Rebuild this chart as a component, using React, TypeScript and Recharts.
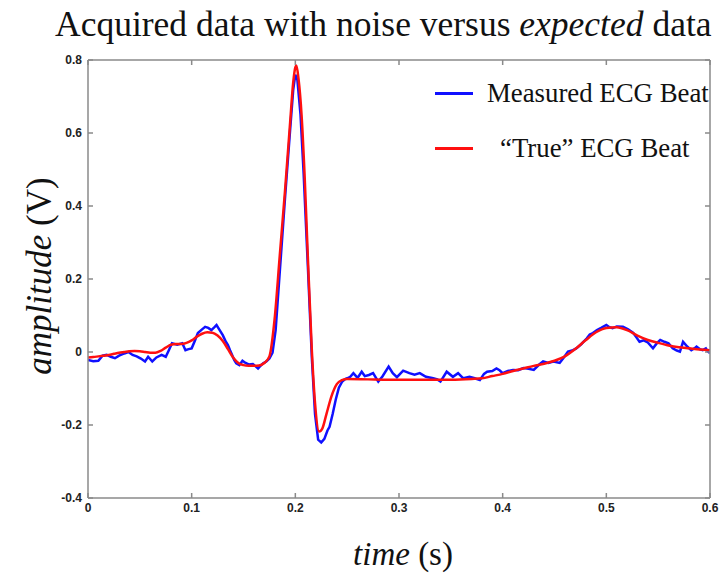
import React from 'react';
import { LineChart, Line, XAxis, YAxis, Label } from 'recharts';

// "True" ECG beat (red)
const trueTime = [
  0, 0.005, 0.01, 0.015, 0.02, 0.025, 0.03, 0.035, 0.04, 0.045, 0.05, 0.055, 0.06, 0.065, 0.07, 0.075,
  0.08, 0.085, 0.09, 0.095, 0.1, 0.105, 0.11, 0.115, 0.12, 0.125, 0.13, 0.135, 0.14, 0.145, 0.15, 0.155,
  0.16, 0.165, 0.17, 0.175, 0.18, 0.185, 0.19, 0.195, 0.198, 0.2, 0.201, 0.203, 0.206, 0.209, 0.212,
  0.216, 0.219, 0.223, 0.226, 0.23, 0.235, 0.24, 0.245, 0.25, 0.27, 0.29, 0.31, 0.33, 0.35, 0.37, 0.38,
  0.39, 0.4, 0.41, 0.42, 0.43, 0.44, 0.45, 0.46, 0.47, 0.48, 0.49, 0.5, 0.51, 0.52, 0.53, 0.54, 0.55,
  0.56, 0.57, 0.58, 0.59, 0.6,
];
const trueVolt = [
  -0.015, -0.014, -0.012, -0.01, -0.008, -0.005, -0.002, 0, 0.002, 0.003, 0.002, 0, -0.002, -0.002, 0.003, 0.012,
  0.02, 0.022, 0.022, 0.025, 0.032, 0.042, 0.05, 0.054, 0.053, 0.045, 0.03, 0.008, -0.015, -0.03, -0.036, -0.038,
  -0.038, -0.037, -0.03, -0.012, 0.09, 0.265, 0.44, 0.63, 0.74, 0.78, 0.785, 0.75, 0.65, 0.48, 0.265,
  0.0, -0.14, -0.218, -0.21, -0.17, -0.12, -0.088, -0.077, -0.074, -0.075, -0.076, -0.076, -0.076, -0.076, -0.074, -0.072,
  -0.066, -0.06, -0.052, -0.045, -0.038, -0.032, -0.024, -0.012, 0.008, 0.032, 0.054, 0.066, 0.068, 0.06, 0.045, 0.033, 0.025,
  0.018, 0.013, 0.01, 0.007, 0.005,
];

// Measured ECG beat (blue)
const measTime = [
  0, 0.005, 0.01, 0.014, 0.018, 0.022, 0.026, 0.03, 0.035, 0.039, 0.043, 0.047, 0.051, 0.055, 0.058, 0.062,
  0.066, 0.071, 0.075, 0.078, 0.081, 0.086, 0.091, 0.094, 0.097, 0.1, 0.103, 0.106, 0.11, 0.113, 0.116, 0.119,
  0.122, 0.124, 0.127, 0.13, 0.133, 0.135, 0.137, 0.139, 0.141, 0.143, 0.146, 0.149, 0.152, 0.155, 0.159, 0.162,
  0.164, 0.167, 0.169, 0.172, 0.175, 0.178, 0.181, 0.185, 0.19, 0.195, 0.198, 0.2, 0.202, 0.205, 0.208, 0.212,
  0.216, 0.219, 0.222, 0.225, 0.228, 0.231, 0.233, 0.236, 0.239, 0.242, 0.245, 0.248, 0.25, 0.253, 0.256, 0.26,
  0.264, 0.267, 0.271, 0.275, 0.28, 0.284, 0.29, 0.294, 0.298, 0.304, 0.31, 0.315, 0.32, 0.326, 0.333, 0.337,
  0.34, 0.346, 0.352, 0.357, 0.362, 0.368, 0.373, 0.378, 0.382, 0.385, 0.39, 0.394, 0.397, 0.4, 0.405, 0.41,
  0.415, 0.42, 0.425, 0.43, 0.435, 0.439, 0.444, 0.449, 0.455, 0.459, 0.463, 0.467, 0.471, 0.476, 0.481, 0.484,
  0.487, 0.491, 0.495, 0.5, 0.503, 0.506, 0.51, 0.516, 0.521, 0.526, 0.529, 0.532, 0.536, 0.54, 0.545, 0.549,
  0.552, 0.556, 0.56, 0.564, 0.568, 0.571, 0.574, 0.578, 0.582, 0.585, 0.587, 0.59, 0.593, 0.596, 0.598, 0.6,
];
const measVolt = [
  -0.022, -0.025, -0.024, -0.01, -0.008, -0.013, -0.017, -0.01, -0.004, 0, -0.008, -0.012, -0.018, -0.026, -0.013, -0.026,
  -0.015, -0.008, -0.013, 0.005, 0.024, 0.02, 0.024, 0.005, 0.008, 0.01, 0.03, 0.052, 0.062, 0.069, 0.066, 0.06,
  0.068, 0.074, 0.06, 0.046, 0.028, 0.019, 0.005, -0.008, -0.022, -0.031, -0.036, -0.024, -0.03, -0.034, -0.033, -0.04,
  -0.045, -0.036, -0.031, -0.026, -0.018, -0.002, 0.06, 0.22, 0.42, 0.61, 0.72, 0.76, 0.745, 0.65, 0.49, 0.24,
  -0.02, -0.17, -0.24, -0.248, -0.238, -0.215, -0.205, -0.17, -0.13, -0.098, -0.082, -0.074, -0.072, -0.068, -0.058, -0.071,
  -0.054, -0.066, -0.063, -0.058, -0.081, -0.067, -0.04, -0.058, -0.069, -0.051, -0.058, -0.062, -0.058, -0.068, -0.072, -0.075,
  -0.081, -0.054, -0.068, -0.058, -0.072, -0.068, -0.072, -0.077, -0.06, -0.054, -0.052, -0.045, -0.05, -0.058, -0.052, -0.049,
  -0.05, -0.044, -0.046, -0.049, -0.035, -0.026, -0.03, -0.026, -0.03, -0.015, 0.001, 0.004, 0.01, 0.022, 0.037, 0.048,
  0.052, 0.06, 0.066, 0.074, 0.068, 0.065, 0.07, 0.069, 0.062, 0.052, 0.04, 0.028, 0.032, 0.026, 0.01, 0.025,
  0.033, 0.028, 0.024, 0.01, 0.004, 0.001, 0.028, 0.015, 0.005, 0.01, 0.015, 0.008, 0.005, 0.01, 0.001, -0.003,
];

const xTicks = [0, 0.1, 0.2, 0.3, 0.4, 0.5, 0.6];
const yTicks = [-0.4, -0.2, 0, 0.2, 0.4, 0.6, 0.8];
const seriesNames = ['Measured ECG Beat', '\u201CTrue\u201D ECG Beat'];
const seriesColors = ['#1010ff', '#ff1010'];

const trueData = trueTime.map((t, i) => ({ t, v: trueVolt[i] }));
const measData = measTime.map((t, i) => ({ t, v: measVolt[i] }));

const SERIF = '"Liberation Serif", "Times New Roman", serif';
const SANS = '"Liberation Sans", Arial, sans-serif';
const tickStyle = { fontFamily: SANS, fontWeight: 700, fontSize: 12, fill: '#222' };
const axisStroke = '#8a8a8a';

const LegendBox = () => (
  <div style={{ position: 'absolute', left: 435, top: 66, fontFamily: SERIF, fontSize: 26.8, color: '#111' }}>
    {seriesNames.map((name, i) => (
      <div key={name} style={{ display: 'flex', alignItems: 'center', height: 55 }}>
        <div style={{ width: 38, height: 3, background: seriesColors[i], marginRight: i === 0 ? 14 : 27 }} />
        <span style={{ whiteSpace: 'nowrap' }}>{name}</span>
      </div>
    ))}
  </div>
);

export default function App() {
  return (
    <div style={{ position: 'absolute', left: 0, top: 0, width: 720, height: 573, background: '#fff' }}>
      <LineChart
        width={720}
        height={573}
        margin={{ top: 59, right: 9, left: 0, bottom: 0 }}
        style={{ position: 'absolute', left: 0, top: 0 }}
      >
        <XAxis
          xAxisId="b"
          dataKey="t"
          type="number"
          domain={[0, 0.6]}
          ticks={xTicks}
          allowDataOverflow
          height={75}
          stroke={axisStroke}
          strokeWidth={1.5}
          tickSize={-5}
          tickMargin={10}
          tick={tickStyle}
          tickLine={{ stroke: axisStroke }}
        >
          <Label
            content={() => (
              <text x={403} y={565} textAnchor="middle" fontFamily={SERIF} fontSize={33} fill="#111">
                <tspan fontStyle="italic">time</tspan>
                <tspan> (s)</tspan>
              </text>
            )}
          />
        </XAxis>
        <XAxis
          xAxisId="t"
          orientation="top"
          dataKey="t"
          type="number"
          domain={[0, 0.6]}
          ticks={xTicks}
          allowDataOverflow
          height={1}
          stroke={axisStroke}
          strokeWidth={1.5}
          tickSize={-5}
          tickFormatter={() => ''}
          tickLine={{ stroke: axisStroke }}
        />
        <YAxis
          yAxisId="l"
          type="number"
          domain={[-0.4, 0.8]}
          ticks={yTicks}
          allowDataOverflow
          width={88}
          stroke={axisStroke}
          strokeWidth={1.5}
          tickSize={-5}
          tickMargin={11}
          tick={tickStyle}
          tickLine={{ stroke: axisStroke }}
        >
          <Label
            content={() => (
              <text
                x={39}
                y={276}
                textAnchor="middle"
                transform="rotate(-90, 39, 276)"
                fontFamily={SERIF}
                fontSize={35}
                fill="#111"
                dominantBaseline="central"
              >
                <tspan fontStyle="italic">amplitude</tspan>
                <tspan> (V)</tspan>
              </text>
            )}
          />
        </YAxis>
        <YAxis
          yAxisId="r"
          orientation="right"
          type="number"
          domain={[-0.4, 0.8]}
          ticks={yTicks}
          allowDataOverflow
          width={1}
          stroke={axisStroke}
          strokeWidth={1.5}
          tickSize={-5}
          tickFormatter={() => ''}
          tickLine={{ stroke: axisStroke }}
        />
        <Line
          xAxisId="b"
          yAxisId="l"
          data={measData}
          dataKey="v"
          name={seriesNames[0]}
          type="linear"
          stroke={seriesColors[0]}
          strokeWidth={2.5}
          dot={false}
          isAnimationActive={false}
        />
        <Line
          xAxisId="b"
          yAxisId="l"
          data={trueData}
          dataKey="v"
          name={seriesNames[1]}
          type="monotone"
          stroke={seriesColors[1]}
          strokeWidth={2.5}
          dot={false}
          isAnimationActive={false}
        />
      </LineChart>
      <div
        style={{
          position: 'absolute', left: 55, top: 4, whiteSpace: 'nowrap',
          fontFamily: SERIF, fontSize: 35.5, lineHeight: '40px', color: '#111',
        }}
      >
        Acquired data with noise versus <i>expected</i> data
      </div>
      <LegendBox />
    </div>
  );
}
